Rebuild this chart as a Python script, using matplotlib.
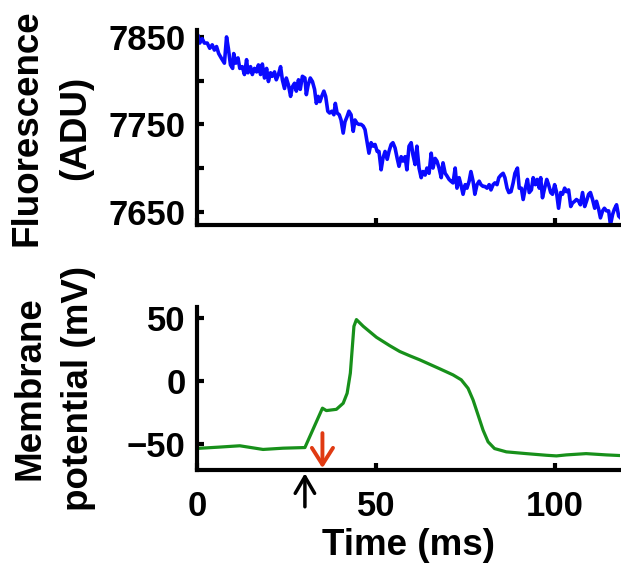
import matplotlib.pyplot as plt

# fluorescence trace (ADU)
fluor_t = [0.0, 0.3, 0.8, 1.5, 2.1, 2.9, 3.6, 4.3, 4.9, 5.5,
           6.1, 6.8, 7.4, 7.7, 8.3, 8.8, 9.4, 10.0, 10.3, 10.9,
           11.5, 12.0, 12.7, 13.3, 13.9, 14.3, 15.0, 15.5, 16.1, 16.7,
           17.2, 17.8, 18.3, 18.9, 19.5, 20.0, 20.6, 21.1, 21.7, 22.2,
           22.8, 23.4, 23.9, 24.5, 25.0, 25.6, 26.2, 26.7, 27.3, 27.8,
           28.4, 28.9, 29.5,
           30.2, 30.6, 31.1, 31.7, 32.3, 32.9, 33.4, 33.9, 34.4, 34.9,
           35.5, 36.0, 36.6, 37.1, 37.7, 38.3, 38.7, 39.2, 39.8, 40.3,
           40.9, 41.4, 42.0, 42.5, 43.1, 43.7, 44.2, 44.8, 45.3, 45.9,
           46.5, 47.0, 47.6, 48.1, 48.7, 49.3, 49.8, 50.4, 50.9, 51.5,
           52.0, 52.6, 53.2, 53.7, 54.3, 54.8, 55.4, 56.0, 56.5, 57.1,
           57.6, 58.2, 58.7, 59.3,
           59.9, 60.4, 61.0, 61.5, 62.1, 62.7, 63.2, 63.8, 64.3, 64.9,
           65.5, 66.0, 66.6, 67.1, 67.7, 68.3, 68.8, 69.4, 69.9, 70.5,
           71.0, 71.6, 72.2, 72.7, 73.3, 73.8, 74.4, 75.0, 75.5, 76.1,
           76.6, 77.2, 77.7, 78.3, 78.9, 79.4, 80.0, 80.5, 81.1, 81.7,
           82.2, 82.8, 83.3, 83.9, 84.4, 85.0, 85.6, 86.1, 86.7, 87.2,
           87.8, 88.4, 88.9,
           89.6, 90.1, 90.7, 91.2, 91.8, 92.4, 92.9, 93.5, 94.0, 94.6,
           95.1, 95.7, 96.1, 96.6, 97.2, 97.8, 98.3, 98.9, 99.4, 100.0,
           100.5, 101.1, 101.7, 102.2, 102.8, 103.3, 103.9, 104.5, 105.0, 105.6,
           106.1, 106.7, 107.2, 107.8, 108.4, 108.9, 109.5, 110.0, 110.6, 111.2,
           111.7, 112.3, 112.8, 113.4, 113.9, 114.5, 115.1, 115.6, 116.2, 116.7,
           117.3, 117.9, 118.4]
fluor_adu = [7839, 7852, 7843, 7848, 7843, 7843, 7837, 7841, 7835, 7839,
             7831, 7826, 7822, 7820, 7850, 7837, 7818, 7814, 7831, 7820,
             7826, 7814, 7816, 7807, 7824, 7809, 7816, 7807, 7814, 7810,
             7818, 7807, 7819, 7803, 7814, 7799, 7809, 7805, 7810, 7801,
             7807, 7816, 7801, 7791, 7803, 7795, 7782, 7793, 7797, 7788,
             7801, 7790, 7805,
             7803, 7784, 7795, 7803, 7799, 7790, 7774, 7782, 7776, 7782,
             7788, 7782, 7765, 7763, 7765, 7761, 7774, 7763, 7761, 7755,
             7740, 7753, 7759, 7765, 7761, 7742, 7755, 7751, 7750, 7750,
             7748, 7744, 7729, 7717, 7729, 7725, 7727, 7719, 7719, 7698,
             7711, 7719, 7710, 7719, 7727, 7729, 7723, 7711, 7702, 7713,
             7708, 7713, 7698, 7725,
             7729, 7715, 7704, 7725, 7700, 7689, 7696, 7692, 7700, 7694,
             7717, 7700, 7711, 7708, 7700, 7689, 7706, 7694, 7691, 7687,
             7685, 7683, 7700, 7677, 7689, 7681, 7670, 7681, 7677, 7685,
             7696, 7685, 7670, 7681, 7685, 7681, 7679, 7679, 7677, 7681,
             7675, 7681, 7683, 7681, 7689, 7692, 7694, 7689, 7677, 7672,
             7673, 7683, 7694,
             7700, 7677, 7677, 7664, 7677, 7687, 7672, 7675, 7689, 7681,
             7687, 7677, 7689, 7666, 7677, 7687, 7681, 7672, 7670, 7681,
             7673, 7654, 7672, 7670, 7677, 7673, 7675, 7656, 7660, 7662,
             7664, 7662, 7658, 7672, 7656, 7662, 7670, 7672, 7664, 7654,
             7662, 7653, 7643, 7651, 7654, 7651, 7651, 7635, 7647, 7653,
             7658, 7645, 7643]

# membrane potential (mV)
vm_t = [0.0, 6.0, 12.0, 18.5, 24.1, 30.2, 35.1, 36.2, 39.0, 40.9,
        42.0, 42.9, 43.4, 43.9, 44.6, 46.5, 50.2, 53.9, 56.7, 59.5,
        62.3, 67.9, 71.6, 73.9, 75.8, 77.2, 78.6, 80.0, 81.4, 83.2,
        86.5, 92.1, 97.7, 100.5, 103.3, 108.8, 114.4, 118.2]
vm_mv = [-53.4, -52.4, -51.3, -54.2, -53.2, -52.7, -21.6, -23.5, -22.5, -17.7,
         -9.8, 6.1, 24.6, 43.1, 48.4, 43.1, 34.4, 27.8, 23.2, 19.8,
         16.6, 9.5, 4.7, 0.8, -5.9, -15.1, -27.0, -39.0, -48.2, -53.5,
         -56.1, -57.5, -58.8, -59.3, -58.5, -57.5, -58.5, -59.0]

stim_time = 30.2     # black arrow
spike_time = 35.1    # red arrow

plt.rcParams['font.family'] = ['Liberation Sans', 'DejaVu Sans']
plt.rcParams['font.weight'] = 'bold'
plt.rcParams['axes.labelweight'] = 'bold'
plt.rcParams['font.size'] = 25
plt.rcParams['axes.labelsize'] = 26.5

fig = plt.figure(figsize=(6.21, 5.65), dpi=100)
ax1 = fig.add_axes([0.317, 0.602, 0.681, 0.345])
ax2 = fig.add_axes([0.317, 0.168, 0.681, 0.289])

for ax in (ax1, ax2):
    for s in ('top', 'right'):
        ax.spines[s].set_visible(False)
    for s in ('left', 'bottom'):
        ax.spines[s].set_linewidth(3)
    ax.tick_params(direction='in', length=5, width=3, pad=8)
    ax.tick_params(axis='x', pad=14)
    ax.set_xlim(0, 118.2)
    ax.set_xticks([0, 50, 100])

ax1.plot(fluor_t, fluor_adu, color='#0a0aff', lw=2.6)
ax1.set_ylim(7635, 7858)
ax1.set_yticks([7650, 7700, 7750, 7800, 7850])
ax1.set_yticklabels(['7650', '', '7750', '', '7850'])
ax1.set_xticklabels([])
ax1.set_ylabel('Fluorescence\n(ADU)', ha='center', va='center', linespacing=1.5)
ax1.yaxis.set_label_coords(-0.344, 0.5)

ax2.plot(vm_t, vm_mv, color='#17901a', lw=2.3)
ax2.set_ylim(-70.5, 58.5)
ax2.set_yticks([-50, 0, 50])
ax2.set_xlabel('Time (ms)', labelpad=4)
ax2.set_ylabel('Membrane\npotential (mV)', ha='center', va='center', linespacing=1.5)
ax2.yaxis.set_label_coords(-0.338, 0.5)

ax2.annotate('', xy=(stim_time, -73), xytext=(stim_time, -99.5),
             arrowprops=dict(arrowstyle='->,head_length=0.6,head_width=0.35',
                             color='black', lw=2.5, mutation_scale=20,
                             shrinkA=0, shrinkB=0),
             annotation_clip=False)
ax2.annotate('', xy=(spike_time, -69), xytext=(spike_time, -41.3),
             arrowprops=dict(arrowstyle='->,head_length=0.6,head_width=0.38',
                             color='#e03a12', lw=2.8, mutation_scale=20,
                             shrinkA=0, shrinkB=0),
             annotation_clip=False)

fig.savefig('out.png', dpi=100)
